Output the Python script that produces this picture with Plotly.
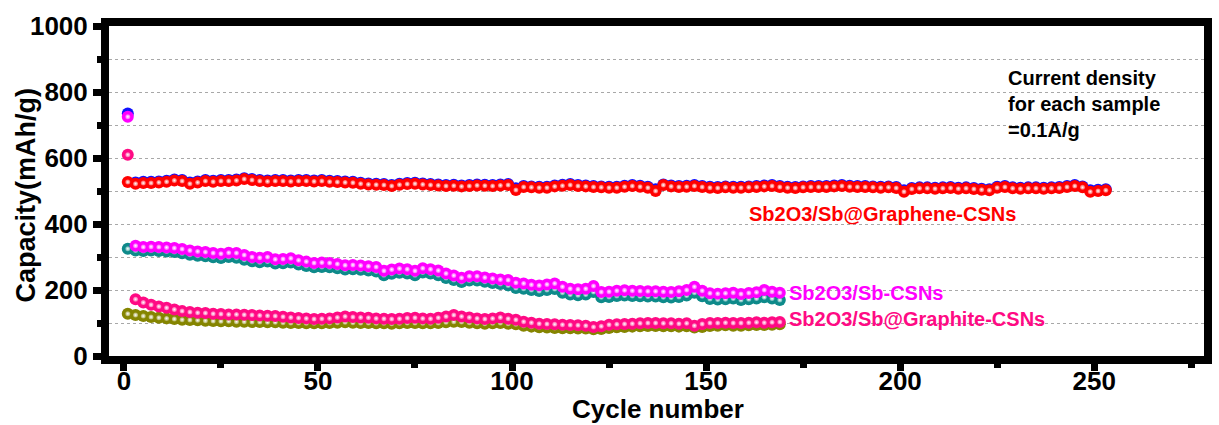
import plotly.graph_objects as go

# ---------------- data ----------------
cycles_graphene = list(range(1, 254, 2))   # 127 points
cycles_other = list(range(1, 170, 2))      # 85 points

graphene_discharge = [  # blue
    735, 526, 528, 528, 529, 531, 535, 533, 526, 529,
    533, 531, 533, 533, 535, 539, 536, 533, 532, 533,
    533, 532, 533, 533, 532, 533, 531, 530, 529, 528,
    525, 523, 522, 521, 518, 522, 524, 525, 523, 521,
    520, 518, 519, 517, 518, 520, 519, 518, 520, 521,
    508, 515, 514, 513, 513, 517, 519, 521, 518, 517,
    515, 514, 513, 513, 516, 518, 516, 513, 505, 520,
    517, 515, 516, 518, 515, 513, 512, 514, 513, 513,
    514, 515, 517, 518, 515, 513, 512, 514, 515, 515,
    515, 517, 518, 516, 515, 515, 514, 513, 514, 512,
    502, 509, 511, 511, 510, 511, 512, 510, 511, 509,
    507, 505, 513, 515, 511, 510, 511, 511, 510, 511,
    512, 515, 518, 514, 502, 504, 505]

graphene_charge = [  # red
    527, 522, 524, 524, 526, 528, 532, 530, 522, 526,
    530, 528, 530, 530, 532, 536, 533, 530, 529, 530,
    530, 529, 530, 530, 529, 530, 528, 527, 526, 525,
    522, 520, 519, 518, 515, 519, 521, 522, 520, 518,
    517, 515, 516, 514, 515, 517, 516, 515, 517, 518,
    503, 512, 511, 510, 510, 514, 516, 518, 515, 514,
    512, 511, 510, 510, 513, 515, 513, 510, 500, 518,
    514, 512, 513, 515, 512, 510, 509, 511, 510, 510,
    511, 512, 514, 515, 512, 510, 509, 511, 512, 512,
    512, 514, 515, 513, 512, 512, 511, 510, 511, 509,
    498, 506, 508, 508, 507, 508, 509, 507, 508, 506,
    504, 502, 510, 512, 508, 507, 508, 508, 507, 508,
    509, 512, 515, 511, 498, 500, 502]

sb_discharge = [  # teal
    325, 320, 318, 320, 318, 317, 315, 311, 307, 304,
    302, 299, 297, 300, 298, 292, 287, 284, 286, 280,
    281, 283, 277, 273, 269, 270, 269, 266, 262, 263,
    261, 259, 256, 245, 249, 252, 250, 245, 253, 250,
    245, 236, 230, 224, 229, 229, 225, 221, 218, 214,
    206, 204, 200, 197, 200, 203, 192, 186, 184, 186,
    194, 178, 179, 182, 183, 182, 181, 180, 180, 178,
    177, 179, 183, 192, 181, 173, 171, 172, 174, 170,
    172, 174, 178, 174, 170]

sb_charge = [  # magenta
    725, 334, 330, 331, 330, 329, 327, 324, 320, 317,
    315, 312, 310, 313, 312, 306, 300, 298, 300, 293,
    294, 296, 290, 286, 282, 283, 282, 279, 275, 276,
    274, 272, 270, 258, 262, 265, 263, 258, 266, 263,
    259, 250, 244, 237, 242, 242, 238, 235, 232, 230,
    222, 220, 216, 214, 217, 220, 210, 204, 202, 204,
    212, 194, 195, 198, 199, 198, 197, 196, 196, 195,
    194, 196, 200, 210, 198, 190, 189, 190, 192, 188,
    191, 193, 200, 195, 192]

graphite_discharge = [  # olive
    128, 124, 121, 118, 116, 114, 112, 110, 109, 108,
    107, 106, 105, 105, 104, 104, 103, 103, 102, 102,
    101, 100, 100, 99, 99, 99, 100, 101, 102, 101,
    100, 100, 99, 99, 98, 99, 100, 100, 99, 99,
    100, 102, 104, 103, 101, 99, 98, 99, 100, 98,
    96, 92, 89, 87, 86, 85, 84, 84, 83, 83,
    81, 82, 85, 87, 88, 89, 90, 91, 91, 90,
    90, 89, 90, 86, 88, 91, 92, 93, 92, 92,
    93, 94, 94, 95, 96]

graphite_charge = [  # deep pink
    610, 172, 162, 155, 150, 146, 141, 136, 133, 131,
    130, 128, 127, 126, 126, 125, 124, 123, 122, 121,
    119, 117, 115, 114, 112, 113, 114, 117, 120, 118,
    117, 116, 114, 113, 112, 113, 115, 116, 114, 113,
    116, 120, 124, 120, 117, 114, 112, 114, 117, 113,
    110, 104, 101, 98, 97, 96, 95, 94, 93, 92,
    88, 90, 95, 96, 97, 98, 99, 100, 100, 99,
    99, 98, 99, 92, 97, 100, 100, 101, 100, 100,
    101, 102, 101, 102, 103]

series = [
    (cycles_graphene, graphene_discharge, "#1010FF"),
    (cycles_graphene, graphene_charge, "#FF0000"),
    (cycles_other, sb_discharge, "#0E8A8A"),
    (cycles_other, sb_charge, "#FF00FF"),
    (cycles_other, graphite_discharge, "#858500"),
    (cycles_other, graphite_charge, "#FF0A84"),
]

x_ticks = [0, 50, 100, 150, 200, 250]
y_ticks = [0, 200, 400, 600, 800, 1000]

FONT = "Arial, Liberation Sans, Helvetica, sans-serif"

fig = go.Figure()
for xs, ys, col in series:
    fig.add_trace(go.Scatter(
        x=xs, y=ys, mode="markers", showlegend=False, hoverinfo="skip",
        marker=dict(size=12, color=col, line=dict(width=0)),
    ))
    fig.add_trace(go.Scatter(
        x=xs, y=ys, mode="markers", showlegend=False, hoverinfo="skip",
        marker=dict(size=5, color="rgba(255,255,255,0.35)", line=dict(width=0),
                    gradient=dict(type="radial", color="rgba(255,255,255,1)")),
    ))

annos = [
    dict(text="<b>Sb2O3/Sb@Graphene-CSNs</b>", x=160.6, y=431, color="#FF0000"),
    dict(text="<b>Sb2O3/Sb-CSNs</b>", x=170.8, y=192, color="#FF00FF"),
    dict(text="<b>Sb2O3/Sb@Graphite-CSNs</b>", x=170.8, y=112, color="#FF0A84"),
]
for a in annos:
    fig.add_annotation(text=a["text"], x=a["x"], y=a["y"], xref="x", yref="y",
                       xanchor="left", yanchor="middle", showarrow=False,
                       font=dict(family=FONT, size=20, color=a["color"]))

fig.add_annotation(text="<b>Current density<br>for each sample<br>=0.1A/g</b>",
                   x=227.4, y=764, xref="x", yref="y", xanchor="left", yanchor="middle",
                   align="left", showarrow=False,
                   font=dict(family=FONT, size=20, color="black"))

fig.add_annotation(text="<b>Cycle number</b>", x=0.501, y=-0.162, xref="paper", yref="paper",
                   xanchor="center", yanchor="middle", showarrow=False,
                   font=dict(family=FONT, size=26, color="black"))
fig.add_annotation(text="<b>Capacity(mAh/g)</b>", x=-0.0762, y=0.488, xref="paper", yref="paper",
                   xanchor="center", yanchor="middle", textangle=-90, showarrow=False,
                   font=dict(family=FONT, size=27, color="black"))

fig.update_layout(
    width=1219, height=425,
    margin=dict(l=109, r=7, t=26, b=69),
    paper_bgcolor="white", plot_bgcolor="white",
    font=dict(family=FONT, color="black"),
)
fig.update_xaxes(
    range=[-3.84, 278.3], tickvals=x_ticks, ticktext=[str(v) for v in x_ticks],
    showline=True, linecolor="black", linewidth=8, mirror=True,
    ticks="outside", ticklen=7, tickwidth=7, tickcolor="black",
    ticklabelstandoff=-12,
    tickfont=dict(family=FONT, size=26, color="black", weight="bold"),
    showgrid=False, zeroline=False,
    minor=dict(tickvals=[25, 75, 125, 175, 225, 275], ticks="outside", ticklen=4,
               tickwidth=7, tickcolor="black", showgrid=False),
)
fig.update_yaxes(
    range=[0, 1000], tickvals=y_ticks, ticktext=[str(v) for v in y_ticks],
    showline=True, linecolor="black", linewidth=8, mirror=True,
    ticks="outside", ticklen=8, tickwidth=7, tickcolor="black",
    tickfont=dict(family=FONT, size=26, color="black", weight="bold"),
    showgrid=True, gridcolor="#a8a8a8", gridwidth=1, griddash="dot",
    zeroline=False,
    minor=dict(tickvals=[100, 300, 500, 700, 900], ticks="outside", ticklen=4,
               tickwidth=7, tickcolor="black", showgrid=True, gridcolor="#a8a8a8",
               gridwidth=1, griddash="dot"),
)

fig.write_html("out.html")
